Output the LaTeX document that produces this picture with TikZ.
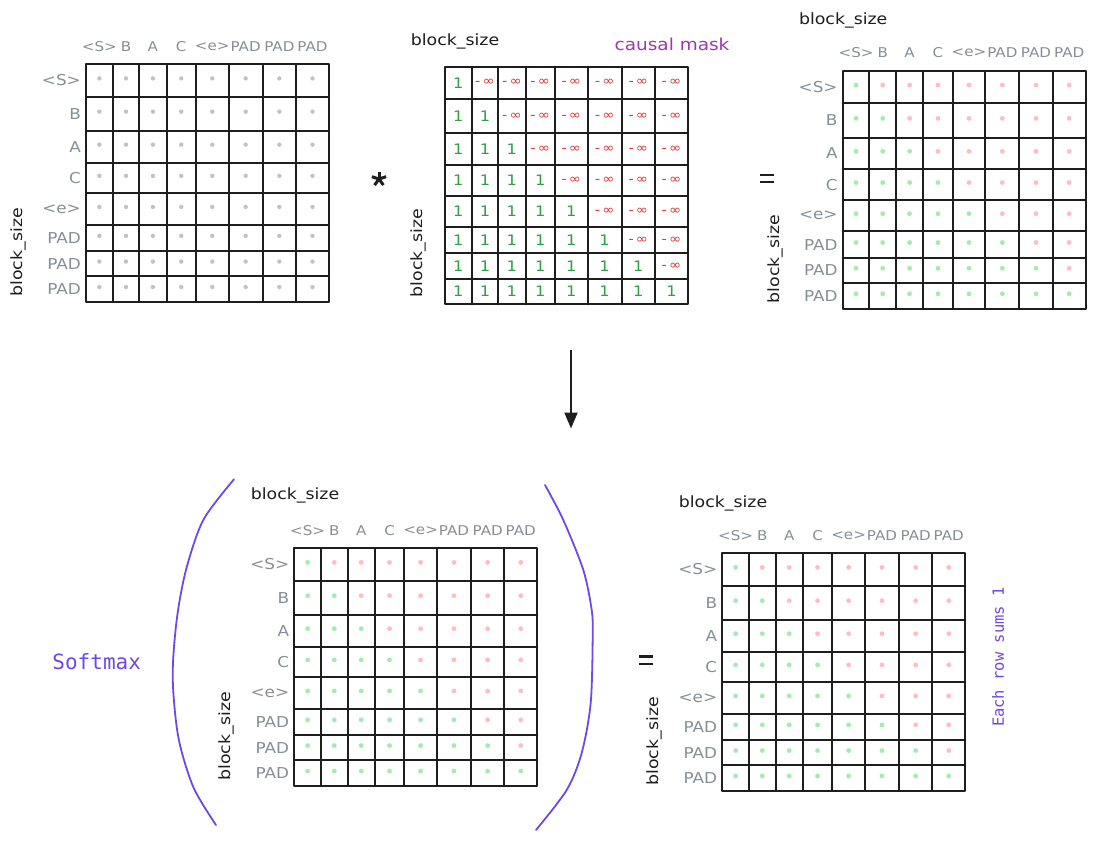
\documentclass[tikz,border=0pt]{standalone}
\usepackage{fontspec}
\setmainfont{DejaVu Sans}
\newfontfamily\hand[FakeStretch=1.12]{DejaVu Sans}
\newfontfamily\monof{DejaVu Sans Mono}
\usetikzlibrary{arrows.meta}
\definecolor{ink}{HTML}{1E1E1E}
\definecolor{labgrey}{HTML}{868E96}
\definecolor{dotgreyc}{HTML}{BFC3C8}
\definecolor{dotgreenc}{HTML}{A3EBAE}
\definecolor{dotpinkc}{HTML}{FFBDBD}
\definecolor{onegreen}{HTML}{2F9E44}
\definecolor{infred}{HTML}{E03131}
\definecolor{violetc}{HTML}{7048E8}
\definecolor{purplec}{HTML}{9C36B5}
\def\CX{{0,26.7,53.3,80.5,110,142.6,176.7,210,243}}
\def\RY{{0,32.2,66.5,98.2,128.9,160.4,186.7,211.8,237.7}}
\tikzset{
  gridline/.style={draw=ink,line width=2pt,line cap=round,line join=round},
  collab/.style={text=labgrey,font=\hand\fontsize{13.5}{15}\selectfont,inner sep=0pt},
  rowlab/.style={text=labgrey,font=\hand\fontsize{15}{17}\selectfont,inner sep=0pt},
  bs/.style={text=ink,font=\hand\fontsize{15.5}{18}\selectfont,inner sep=0pt},
  onev/.style={text=onegreen,font=\hand\fontsize{14.5}{16}\selectfont,inner sep=0pt},
  ninf/.style={text=infred,font=\hand\fontsize{13}{15}\selectfont,inner sep=0pt},
  paren/.style={draw=violetc,line width=1.8pt,line cap=round},
  eqline/.style={draw=ink,line width=2.6pt},
}
\newcommand\gridmat[3]{%
  \coordinate (#1) at (#2,#3);
  \foreach \i in {1,...,7}{%
    \pgfmathsetmacro\xx{#2+\CX[\i]}%
    \pgfmathsetmacro\yy{#3+\RY[\i]}%
    \draw[gridline] (\xx,#3) -- (\xx,#3+237.7);
    \draw[gridline] (#2,\yy) -- (#2+243,\yy);
  }
  \draw[gridline] (#2,#3) rectangle (#2+243,#3+237.7);
}
\newcommand\dotsmat[3]{% ox oy mode
  \foreach \r in {0,...,7}{%
    \foreach \c in {0,...,7}{%
      \pgfmathsetmacro\xx{#1+(\CX[\c]+\CX[\c+1])/2}%
      \pgfmathsetmacro\yy{#2+(\RY[\r]+\RY[\r+1])/2-2}%
      \ifnum#3=0
        \fill[dotgreyc] (\xx,\yy) circle (2.2);
      \else
        \ifnum\c>\r
          \fill[dotpinkc] (\xx,\yy) circle (2.4);
        \else
          \fill[dotgreenc] (\xx,\yy) circle (2.4);
        \fi
      \fi
    }%
  }%
}
\newcommand\labmat[3]{%
  \foreach \t [count=\k from 0] in {<S>,B,A,C,<e>,PAD,PAD,PAD}{%
    \pgfmathsetmacro\xx{#2+(\CX[\k]+\CX[\k+1])/2}%
    \pgfmathsetmacro\yy{#3+(\RY[\k]+\RY[\k+1])/2}%
    \node[collab] (#1-c\k) at (\xx,#3-18) {\t};
    \node[rowlab,anchor=east] (#1-r\k) at (#2-5,\yy) {\t};
  }
  \node[bs,rotate=90] (#1-bl) at (#2-67.5,#3+188) {block\_size};
}
\begin{document}
\begin{tikzpicture}[x=1pt,y=-1pt]
\useasboundingbox[fill=white] (0,0) rectangle (1096,841);

% top-left matrix
\dotsmat{86}{64.3}{0}
\gridmat{tl}{86}{64.3}
\labmat{tl}{86}{64.3}

% multiplication sign
\coordinate (star) at (379,179);
\foreach \a in {-90,-18,-162,54,126}{
  \draw[ink,line width=3pt] (star) -- ++(\a:7.5);
}

% causal mask
\gridmat{mask}{445}{66.7}
\foreach \r in {0,...,7}{%
  \foreach \c in {0,...,7}{%
    \pgfmathsetmacro\xx{445+(\CX[\c]+\CX[\c+1])/2}%
    \pgfmathsetmacro\yy{66.7+(\RY[\r]+\RY[\r+1])/2}%
    \ifnum\c>\r
      \node[ninf] (mask-\r-\c) at (\xx,\yy) {-\,∞};
    \else
      \node[onev] (mask-\r-\c) at (\xx,\yy) {1};
    \fi
  }%
}
\node[bs] (mask-bt) at (455,41.7) {block\_size};
\node[bs,rotate=90] (mask-bl) at (418,253) {block\_size};
\node[text=purplec,font=\hand\fontsize{16.5}{19}\selectfont,inner sep=0pt] (causal) at (672,44) {causal mask};

% equals top
\draw[eqline] (760,175) -- (774,175);
\draw[eqline] (760,182) -- (774,182);

% top-right matrix
\dotsmat{842.7}{71}{1}
\gridmat{tr}{842.7}{71}
\labmat{tr}{842.7}{71}
\node[bs] (tr-bt) at (843.2,20) {block\_size};

% arrow
\coordinate (aS) at (571,349.5);
\coordinate (aE) at (571,428.5);
\draw[ink,line width=2pt,-{Triangle[length=16pt,width=13pt]}] (aS) -- (aE);

% softmax
\node[text=violetc,font=\monof\fontsize{21}{24}\selectfont,inner sep=0pt] (softmax) at (96.7,662) {Softmax};
\draw[paren] plot[smooth] coordinates {(234,479.3) (203.3,520) (186,570) (176.7,620) (172.7,677) (178.3,737) (193.3,787) (216,825)};
\draw[paren] plot[smooth] coordinates {(545,485) (563.3,520) (583.3,570) (591.7,610) (592.7,636.7) (590.7,703) (581.7,753) (566.7,790) (536,830)};

% bottom-left matrix
\dotsmat{294.3}{548.3}{1}
\gridmat{bl}{294.3}{548.3}
\labmat{bl}{294.3}{548.3}
\node[bs] (bl-bt) at (295,495) {block\_size};

% equals bottom
\draw[eqline] (639,656.5) -- (653,656.5);
\draw[eqline] (639,664) -- (653,664);

% bottom-right matrix
\dotsmat{722.3}{553.3}{1}
\gridmat{br}{722.3}{553.3}
\labmat{br}{722.3}{553.3}
\node[bs] (br-bt) at (723,503) {block\_size};
\node[text=violetc,font=\monof\fontsize{15.5}{18}\selectfont,inner sep=0pt,rotate=90] (rowsum) at (998,657) {Each row sums 1};
\end{tikzpicture}
\end{document}
